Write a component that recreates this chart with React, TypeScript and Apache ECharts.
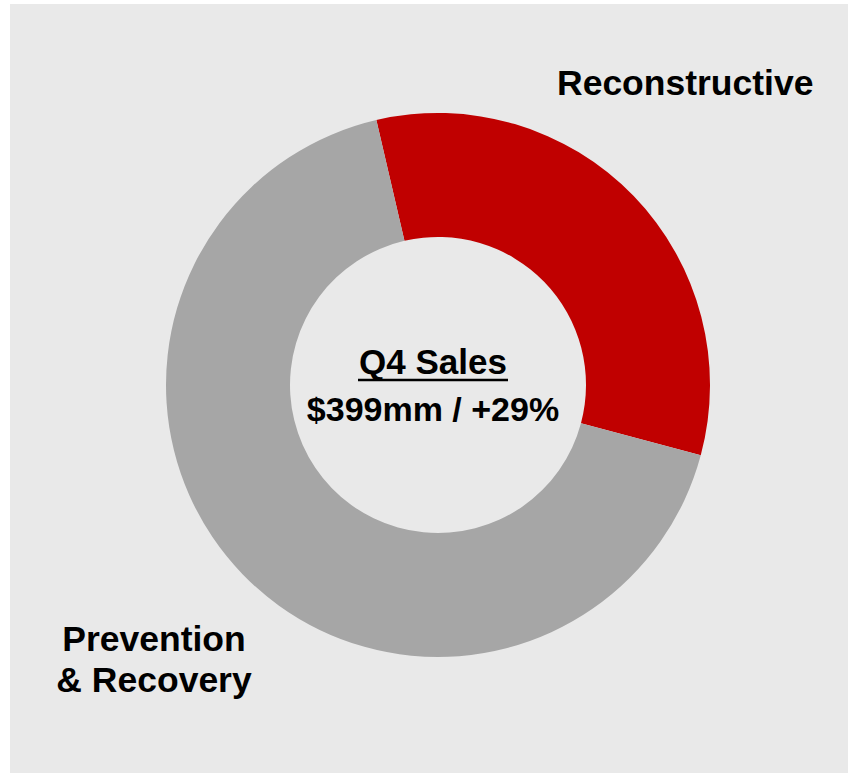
import React, { useEffect, useRef } from "react";
import * as echarts from "echarts";

const categories = ["Reconstructive", "Prevention & Recovery"];
const shares = [32.8, 67.2];
const colors = ["#C00000", "#A6A6A6"];
const labelLines = [["Reconstructive"], ["Prevention", "& Recovery"]];
const centerTitle = "Q4 Sales";
const centerSubtitle = "$399mm / +29%";

const FONT = "'Liberation Sans', Arial, sans-serif";

export default function App() {
  const ref = useRef<HTMLDivElement>(null);
  useEffect(() => {
    if (!ref.current) return;
    const chart = echarts.init(ref.current, undefined, { renderer: "svg" });
    chart.setOption({
      animation: false,
      backgroundColor: "#FFFFFF",
      graphic: [
        {
          type: "rect",
          z: -10,
          shape: { x: 10, y: 4, width: 838, height: 769 },
          style: { fill: "#E9E9E9" },
          silent: true,
        },
        {
          type: "text",
          x: 557,
          y: 83,
          style: {
            text: labelLines[0].join("\n"),
            font: `bold 35.5px ${FONT}`,
            fill: "#000000",
            align: "left",
            verticalAlign: "middle",
          },
        },
        {
          type: "text",
          x: 154,
          y: 659,
          style: {
            text: labelLines[1].join("\n"),
            font: `bold 35.5px ${FONT}`,
            lineHeight: 41,
            fill: "#000000",
            align: "center",
            verticalAlign: "middle",
          },
        },
        {
          type: "text",
          x: 433,
          y: 361.5,
          z: 10,
          style: {
            text: centerTitle,
            font: `bold 35px ${FONT}`,
            fill: "#000000",
            align: "center",
            verticalAlign: "middle",
          },
        },
        {
          type: "line",
          z: 10,
          shape: { x1: 358, y1: 380, x2: 508, y2: 380 },
          style: { stroke: "#000000", lineWidth: 2.5 },
        },
        {
          type: "text",
          x: 433,
          y: 408.5,
          z: 10,
          style: {
            text: centerSubtitle,
            font: `bold 34px ${FONT}`,
            fill: "#000000",
            align: "center",
            verticalAlign: "middle",
          },
        },
      ],
      series: [
        {
          type: "pie",
          center: [438, 385],
          radius: [148, 272],
          startAngle: 103.1,
          clockwise: true,
          label: { show: false },
          labelLine: { show: false },
          emphasis: { disabled: true },
          itemStyle: { borderWidth: 0 },
          data: categories.map((name, i) => ({
            name,
            value: shares[i],
            itemStyle: { color: colors[i] },
          })),
        },
      ],
    });
    return () => chart.dispose();
  }, []);
  return (
    <div
      ref={ref}
      style={{ position: "absolute", left: 0, top: 0, width: 848, height: 773 }}
    />
  );
}
